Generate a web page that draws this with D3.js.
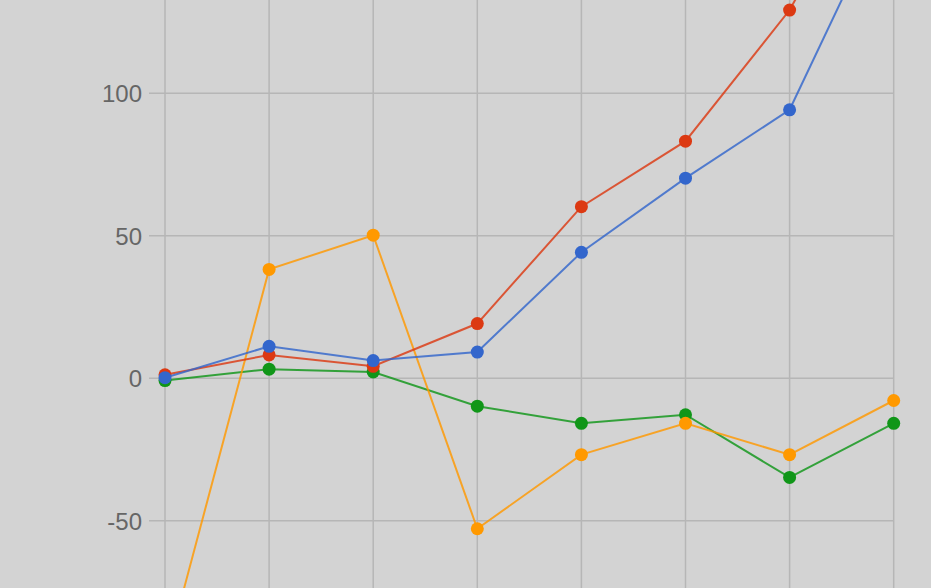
<!DOCTYPE html>
<html>
<head>
<meta charset="utf-8">
<script src="https://cdn.jsdelivr.net/npm/d3@7"></script>
<style>
  html, body { margin: 0; padding: 0; background: #d3d3d3; overflow: hidden; }
  svg { display: block; }
</style>
</head>
<body>
<div id="chart"></div>
<script>
// categories along x (no labels are visible in the crop)
const categories = ["c1", "c2", "c3", "c4", "c5", "c6", "c7", "c8"];

// y ticks shown
const yTicks = [-50, 0, 50, 100];

// series values
const redValues = [1, 8, 4, 19, 60, 83, 129, 195];
const blueValues = [0, 11, 6, 9, 44, 70, 94, 171];
const orangeValues = [-99, 38, 50, -53, -27, -16, -27, -8];
const greenValues = [-1, 3, 2, -10, -16, -13, -35, -16];

// drawn in this order (later ones on top)
const series = [
  { name: "green", values: greenValues, color: "#109618" },
  { name: "orange", values: orangeValues, color: "#ff9900" },
  { name: "red", values: redValues, color: "#dc3912" },
  { name: "blue", values: blueValues, color: "#3366cc" },
];

const width = 931;
const height = 588;

const svg = d3
  .select("#chart")
  .append("svg")
  .attr("width", width)
  .attr("height", height)
  .style("background", "#d3d3d3");

const x = d3.scalePoint().domain(categories).range([165, 893.7]);

const y = d3.scaleLinear().domain([-50, 100]).range([520.2, 92.7]);

// vertical grid lines (run the full height of the crop)
svg
  .append("g")
  .attr("class", "x-grid")
  .selectAll("line")
  .data(categories)
  .enter()
  .append("line")
  .attr("x1", (d) => x(d))
  .attr("x2", (d) => x(d))
  .attr("y1", 0)
  .attr("y2", height)
  .attr("stroke", "#b6b6b6")
  .attr("stroke-width", 1.5);

// horizontal grid lines + tick labels via axisLeft
const yAxis = svg
  .append("g")
  .attr("class", "y-axis")
  .attr("transform", `translate(${x(categories[0])}, 0)`)
  .call(
    d3
      .axisLeft(y)
      .tickValues(yTicks)
      .tickSize(-(x(categories[categories.length - 1]) - x(categories[0])))
      .tickSizeOuter(0)
      .tickPadding(23)
      .tickFormat((d) => String(d))
  );

yAxis.select(".domain").remove();

yAxis
  .selectAll(".tick line")
  .attr("x1", -16)
  .attr("stroke", "#b6b6b6")
  .attr("stroke-width", 1.5);

yAxis
  .selectAll(".tick text")
  .attr("fill", "#666")
  .attr("dy", "0.38em")
  .style("font-family", "'Helvetica Neue', Helvetica, Arial, 'Liberation Sans', sans-serif")
  .style("font-size", "24px");

const line = d3
  .line()
  .x((d, i) => x(categories[i]))
  .y((d) => y(d));

const seriesGroups = svg
  .append("g")
  .attr("class", "series")
  .selectAll("g")
  .data(series)
  .enter()
  .append("g");

seriesGroups
  .append("path")
  .attr("d", (s) => line(s.values))
  .attr("fill", "none")
  .attr("stroke", (s) => s.color)
  .attr("stroke-opacity", 0.82)
  .attr("stroke-width", 2);

seriesGroups
  .selectAll("circle")
  .data((s) => s.values.map((v, i) => ({ v, i, color: s.color })))
  .enter()
  .append("circle")
  .attr("cx", (d) => x(categories[d.i]))
  .attr("cy", (d) => y(d.v))
  .attr("r", 6.5)
  .attr("fill", (d) => d.color);
</script>
</body>
</html>
